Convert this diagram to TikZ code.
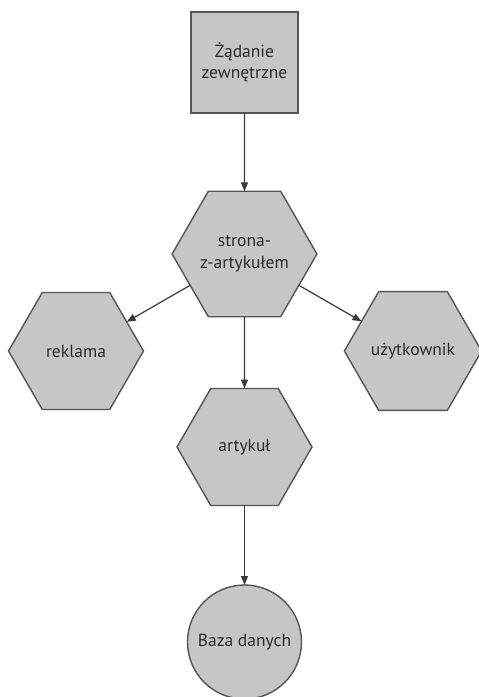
\documentclass[tikz,border=0pt]{standalone}
\usepackage{fontspec}
\setmainfont{PT Sans}
\usetikzlibrary{shapes.geometric,arrows.meta}
\definecolor{boxfill}{HTML}{C6C6C6}
\definecolor{boxline}{HTML}{555555}
\definecolor{txt}{HTML}{2A2A2A}
\definecolor{arrowline}{HTML}{3A3A3A}
\tikzset{
  base/.style={draw=boxline, fill=boxfill, line width=1.4pt, text=txt,
    font=\fontsize{17.5}{21.5}\selectfont, align=center, inner sep=0pt, outer sep=0pt},
  extbox/.style={base, rectangle, minimum width=107pt, minimum height=101pt},
  hexnode/.style={base, regular polygon, regular polygon sides=6,
    minimum size=135pt},
  dbnode/.style={base, circle, minimum size=114pt},
  link/.style={draw=arrowline, line width=1.2pt,
    -{Triangle[length=9pt,width=7pt]}}
}
\begin{document}
\begin{tikzpicture}[x=1pt,y=-1pt]
  \useasboundingbox (0,0) rectangle (479,697);
  \node[extbox] (ext) at (244.5,62.5) {Żądanie\\zewnętrzne};
  \node[hexnode] (page) at (244.5,254) {strona-\\z-artykułem};
  \node[hexnode] (ad) at (76,351) {reklama};
  \node[hexnode] (user) at (413,351) {użytkownik};
  \node[hexnode] (art) at (244.5,447) {artykuł};
  \node[dbnode] (db) at (244.5,642) {Baza danych};
  \draw[link] (ext) -- (page);
  \draw[link] (page) -- (ad);
  \draw[link] (page) -- (user);
  \draw[link] (page) -- (art);
  \draw[link] (art) -- (db);
\end{tikzpicture}
\end{document}
